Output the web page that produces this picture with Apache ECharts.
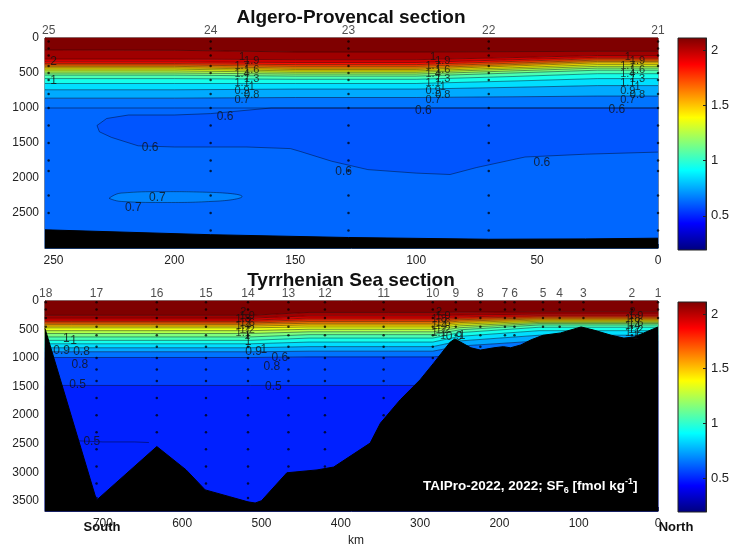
<!DOCTYPE html>
<html><head><meta charset="utf-8">
<script src="https://cdn.jsdelivr.net/npm/echarts@6/dist/echarts.min.js"></script>
<style>html,body{margin:0;padding:0;background:#fff}#c{width:731px;height:548px}</style>
</head><body><div id="c"></div>
<script>
// ================= DATA =================
const cbMin = 0.19, cbMax = 2.11;
const cbTicks = [0.5, 1, 1.5, 2];
const jetColors = ['#00007f','#0000ff','#007fff','#00ffff','#7fff7f','#ffff00','#ff7f00','#ff0000','#7f0000'];

// ---- Algero-Provencal section ----
const apXMax = 253.5, apYMax = 3000;
const apXTicks = [0, 50, 100, 150, 200, 250];
const apYTicks = [0, 500, 1000, 1500, 2000, 2500];
const apStations = ['25', '24', '23', '22', '21'];
const apStationKm = [252, 185, 128, 70, 0];
const apStationBottom = [2740, 2810, 2850, 2875, 2860];
const apSampleDepths = [50, 150, 250, 400, 500, 600, 800, 1000, 1250, 1500, 1750, 1900, 2250, 2500, 2750];
const apLevels = [2.1, 2.0, 1.9, 1.8, 1.7, 1.6, 1.5, 1.4, 1.3, 1.2, 1.1, 1.0, 0.9, 0.8, 0.7, 0.6];
const apNodesKm = [253.5, 200, 150, 100, 60, 25, 0];
const apIsoDepths = [
  [170, 175, 200, 200, 195, 190, 190],
  [300, 300, 310, 310, 280, 250, 250],
  [340, 340, 350, 350, 310, 275, 275],
  [365, 365, 380, 380, 335, 295, 295],
  [385, 385, 405, 405, 360, 315, 315],
  [405, 405, 430, 430, 380, 335, 335],
  [425, 425, 450, 450, 400, 355, 355],
  [445, 445, 470, 470, 425, 380, 380],
  [470, 470, 490, 490, 445, 405, 405],
  [500, 500, 515, 515, 470, 430, 430],
  [530, 530, 545, 545, 500, 460, 460],
  [580, 580, 590, 590, 550, 510, 510],
  [650, 650, 650, 650, 615, 580, 580],
  [740, 740, 730, 730, 705, 680, 680],
  [860, 860, 850, 850, 840, 830, 830],
  [1000, 1000, 1000, 1000, 1000, 1000, 1000]
];
const apDeepValue = 0.625;
const apTongue = [[0,1000],[160,1000],[185,1080],[200,1100],[219,1100],[228,1150],[232,1250],[231,1340],[226,1420],[215,1540],[200,1557],[170,1557],[152,1580],[148,1620],[135,1760],[120,1880],[100,1930],[86,1950],[75,1850],[55,1700],[30,1660],[0,1630]];
const apTongueValue = 0.59;
const apLoop = [[227,2290],[222,2215],[205,2195],[185,2205],[172,2265],[182,2330],[205,2350],[222,2335],[227,2290]];
const apLoopValue = 0.68;
const apBathy = [[253.5,2740],[185,2810],[128,2850],[70,2875],[30,2870],[0,2860]];
const apLabels = [[250,340,'2'],[250,614,'1'],[179,1130,'0.6'],[210,1570,'0.6'],[207,2286,'0.7'],[217,2430,'0.7'],[130,1914,'0.6'],[97,1043,'0.6'],[48,1786,'0.6'],[17,1030,'0.6']];
const apStackKm = [172, 168, 93, 89, 12.5, 8.5];
const apStackTexts = [['1','1.7','1.4','1.1','0.9','0.7'], ['1.9','1.6','1.3','1','0.8']];
const apStackDepths = [[270, 400, 520, 640, 760, 880], [330, 460, 580, 700, 820]];

// ---- Tyrrhenian Sea section ----
const tyXMax = 773, tyYMax = 3680;
const tyXTicks = [0, 100, 200, 300, 400, 500, 600, 700];
const tyYTicks = [0, 500, 1000, 1500, 2000, 2500, 3000, 3500];
const tyStations = ['18','17','16','15','14','13','12','11','10','9','8','7','6','5','4','3','2','1'];
const tyStationKm = [772, 708, 632, 570, 517, 466, 420, 346, 284, 255, 224, 193, 181, 145, 124, 94, 33, 0];
const tyStationBottom = [480, 3480, 2550, 3330, 3520, 3000, 2940, 2100, 1090, 680, 850, 805, 800, 600, 560, 465, 630, 455];
const tySampleDepths = [20, 150, 300, 450, 600, 800, 1000, 1200, 1400, 1700, 2000, 2300, 2600, 2900, 3200, 3450];
const tyLevels = [2.1, 2.0, 1.9, 1.8, 1.7, 1.6, 1.5, 1.4, 1.3, 1.2, 1.1, 1.0, 0.9, 0.8, 0.7, 0.6, 0.5];
const tyNodesKm = [773, 740, 640, 514, 440, 340, 284, 250, 150, 34, 0];
const tyIsoDepths = [
  [250,250,250,250,200,200,200,195,190,190,190],
  [300,300,300,300,260,260,260,245,230,230,230],
  [335,335,335,335,300,300,300,278,255,255,255],
  [360,360,360,360,330,330,330,303,275,275,275],
  [385,385,385,385,360,360,360,328,295,295,295],
  [410,410,410,410,390,390,390,353,315,315,315],
  [440,440,440,440,420,420,420,378,335,335,335],
  [470,470,470,470,455,455,455,405,355,355,355],
  [520,520,520,520,495,495,495,435,375,375,375],
  [570,570,570,570,540,540,540,468,395,395,395],
  [630,630,630,630,590,590,590,505,420,420,420],
  [690,690,690,690,650,650,650,555,460,460,460],
  [750,750,750,750,720,720,720,620,520,520,520],
  [820,820,820,820,800,800,800,700,600,600,600],
  [890,890,890,890,880,880,880,790,700,700,700],
  [990,990,990,990,980,980,980,940,900,900,900],
  [1480,1480,1480,1480,1480,1480,1480,1390,1300,1300,1300]
];
const tyDeepValue = 0.49;
const tyLine05b = [[731,2450],[700,2470],[660,2470],[642,2480]];
const tyBathy = [[773,480],[708,3490],[632,2550],[595,2960],[571,3310],[540,3430],[517,3520],[508,3540],[500,3500],[468,3010],[430,2960],[409,2910],[363,2490],[350,2140],[325,1730],[300,1380],[283,1090],[270,860],[262,720],[256,665],[249,720],[236,820],[224,860],[207,820],[195,800],[186,820],[173,770],[160,680],[145,600],[123,560],[97,455],[81,510],[59,600],[43,650],[30,630],[18,560],[0,455]];
const tyLabels = [[746,660,'1'],[737,690,'1'],[752,875,'0.9'],[727,890,'0.8'],[729,1120,'0.8'],[732,1470,'0.5'],[714,2470,'0.5'],[517,720,'1'],[510,890,'0.9'],[497,860,'1'],[477,1000,'0.6'],[487,1150,'0.8'],[485,1500,'0.5'],[257,630,'0.9'],[247,600,'1']];
const tyStackKm = [523, 518, 276, 271, 32, 28];
const tyStackTexts = [['2','1.8','1.4','1.1'], ['1.9','1.6','1.2','1']];
const tyStackDepths = [[200, 320, 440, 560], [260, 380, 500, 620]];

// ================= CHART =================
const FONT = '"Liberation Sans", Arial, sans-serif';
const series = [];
const colorSeries = [];

function bandSeries(g, nodes, levels, iso, deepVal, maxDepth) {
  const data = [];
  for (let i = 0; i <= levels.length; i++) {
    let v;
    if (i === 0) v = levels[0] + 0.1;
    else if (i === levels.length) v = deepVal;
    else v = (levels[i - 1] + levels[i]) / 2;
    data.push([i, v]);
  }
  return {
    type: 'custom', xAxisIndex: g, yAxisIndex: g, z: 1, silent: true, data,
    renderItem(params, api) {
      const i = api.value(0);
      const top = nodes.map((k, j) => [k, i === 0 ? 0 : iso[i - 1][j]]);
      const bot = nodes.map((k, j) => [k, i === levels.length ? maxDepth : iso[i][j]]).reverse();
      const pts = top.concat(bot).map(p => api.coord(p));
      const c = api.visual('color');
      return { type: 'polygon', shape: { points: pts }, style: { fill: c, stroke: c, lineWidth: 0.6 } };
    }
  };
}
function polySeries(g, polys, vals, smooth) {
  return {
    type: 'custom', xAxisIndex: g, yAxisIndex: g, z: 2, silent: true,
    data: vals.map((v, i) => [i, v]),
    renderItem(params, api) {
      const poly = polys[api.value(0)];
      const c = api.visual('color');
      return { type: 'polygon', shape: { points: poly.map(p => api.coord(p)), smooth: smooth[api.value(0)] }, style: { fill: c } };
    }
  };
}
function lineSeries(g, data, smooth) {
  return { type: 'line', xAxisIndex: g, yAxisIndex: g, z: 3, silent: true, data, smooth: smooth || false,
    showSymbol: false, symbol: 'none', lineStyle: { color: '#000', width: 0.7, opacity: 0.6 } };
}
function isoLines(g, nodes, iso) {
  iso.forEach(row => series.push(lineSeries(g, nodes.map((k, j) => [k, row[j]]))));
}
function bathySeries(g, data) {
  return { type: 'line', xAxisIndex: g, yAxisIndex: g, z: 4, silent: true, data, showSymbol: false, symbol: 'none',
    lineStyle: { color: '#000', width: 1 }, areaStyle: { color: '#000', opacity: 1, origin: 'end' } };
}
function dotSeries(g, kms, bottoms, samples) {
  const data = [];
  kms.forEach((k, i) => samples.forEach(d => { if (d < bottoms[i] - 20) data.push([k, d]); }));
  return { type: 'scatter', xAxisIndex: g, yAxisIndex: g, z: 5, silent: true, data, symbolSize: 2.5,
    itemStyle: { color: '#000', opacity: 0.75 } };
}
function stationLabelSeries(g, kms, names) {
  return { type: 'scatter', xAxisIndex: g, yAxisIndex: g, z: 6, silent: true, clip: false, symbolSize: 0,
    data: kms.map((k, i) => [k, 0, names[i]]),
    label: { show: true, position: 'top', distance: 1, formatter: p => p.value[2], color: '#222', fontSize: 12, fontFamily: FONT } };
}
function textLabelSeries(g, items, fs) {
  return { type: 'scatter', xAxisIndex: g, yAxisIndex: g, z: 6, silent: true, clip: false, symbolSize: 0,
    data: items,
    label: { show: true, position: 'inside', formatter: p => p.value[2], color: '#111', fontSize: fs, fontFamily: FONT } };
}
// stacked (crowded) contour labels: columns in pairs, alternating texts
function stackItems(kms, texts, depths) {
  const out = [];
  kms.forEach((k, c) => { const s = c % 2; texts[s].forEach((t, i) => out.push([k, depths[s][i], t])); });
  return out;
}
function addColor(s) { colorSeries.push(series.length); series.push(s); }

// Top panel
addColor(bandSeries(0, apNodesKm, apLevels, apIsoDepths, apDeepValue, apYMax));
addColor(polySeries(0, [apTongue, apLoop], [apTongueValue, apLoopValue], [0, 0.4]));
isoLines(0, apNodesKm, apIsoDepths);
series.push(lineSeries(0, apTongue));
series.push(lineSeries(0, apLoop, true));
series.push(bathySeries(0, apBathy));
series.push(dotSeries(0, apStationKm, apStationBottom, apSampleDepths));
series.push(stationLabelSeries(0, apStationKm, apStations));
series.push(textLabelSeries(0, apLabels, 12));
series.push(textLabelSeries(0, stackItems(apStackKm, apStackTexts, apStackDepths), 11));

// Bottom panel
addColor(bandSeries(1, tyNodesKm, tyLevels, tyIsoDepths, tyDeepValue, tyYMax));
isoLines(1, tyNodesKm, tyIsoDepths);
series.push(lineSeries(1, tyLine05b));
series.push(bathySeries(1, tyBathy));
series.push(dotSeries(1, tyStationKm, tyStationBottom, tySampleDepths));
series.push(stationLabelSeries(1, tyStationKm, tyStations));
series.push(textLabelSeries(1, tyLabels, 12));
series.push(textLabelSeries(1, stackItems(tyStackKm, tyStackTexts, tyStackDepths), 11));

const plainNum = v => String(v);
function mainX(g, max, ticks) {
  return { gridIndex: g, type: 'value', inverse: true, min: 0, max,
    axisLine: { show: true, onZero: false, lineStyle: { color: '#222' } },
    axisTick: { show: true, inside: true, length: 4, customValues: ticks, lineStyle: { color: '#222' } },
    axisLabel: { customValues: ticks, formatter: plainNum, color: '#222', fontSize: 12, fontFamily: FONT, margin: 7 },
    splitLine: { show: false } };
}
function mainY(g, max, ticks) {
  return { gridIndex: g, type: 'value', inverse: true, min: 0, max,
    axisLine: { show: true, onZero: false, lineStyle: { color: '#222' } },
    axisTick: { show: true, inside: true, length: 4, customValues: ticks, lineStyle: { color: '#222' } },
    axisLabel: { customValues: ticks, formatter: plainNum, color: '#222', fontSize: 12, fontFamily: FONT, margin: 6 },
    splitLine: { show: false } };
}
function cbX(g) { return { gridIndex: g, type: 'value', min: 0, max: 1, show: false }; }
function cbY(g) {
  return { gridIndex: g, type: 'value', min: cbMin, max: cbMax, position: 'right',
    axisLine: { show: true, onZero: false, lineStyle: { color: '#222' } },
    axisTick: { show: true, inside: true, length: 3, customValues: cbTicks, lineStyle: { color: '#222' } },
    axisLabel: { customValues: cbTicks, formatter: plainNum, color: '#222', fontSize: 13, fontFamily: FONT, margin: 5 },
    splitLine: { show: false } };
}
function gridBox(l, t, w, h) {
  return { left: l, top: t, width: w, height: h, show: true, borderColor: '#222', borderWidth: 1, outerBoundsMode: 'none', containLabel: false };
}
const jetGradient = () => new echarts.graphic.LinearGradient(0, 1, 0, 0,
  jetColors.map((c, i) => ({ offset: i / (jetColors.length - 1), color: c })));

const option = {
  animation: false,
  backgroundColor: '#fff',
  grid: [gridBox(45, 38, 613, 210), gridBox(45, 301, 613, 210), gridBox(678, 38, 28, 212), gridBox(678, 302, 28, 210)],
  xAxis: [mainX(0, apXMax, apXTicks), mainX(1, tyXMax, tyXTicks), cbX(2), cbX(3)],
  yAxis: [mainY(0, apYMax, apYTicks), mainY(1, tyYMax, tyYTicks), cbY(2), cbY(3)],
  visualMap: { type: 'continuous', show: false, min: cbMin, max: cbMax, dimension: 1, seriesIndex: colorSeries,
    inRange: { color: jetColors } },
  graphic: [
    { type: 'rect', z: -1, shape: { x: 678, y: 38, width: 28, height: 212 }, style: { fill: jetGradient() } },
    { type: 'rect', z: -1, shape: { x: 678, y: 302, width: 28, height: 210 }, style: { fill: jetGradient() } },
    { type: 'text', x: 351, y: 8, z: 10, style: { text: 'Algero-Provencal section', textAlign: 'center', fill: '#111', font: 'bold 19px ' + FONT } },
    { type: 'text', x: 351, y: 271, z: 10, style: { text: 'Tyrrhenian Sea section', textAlign: 'center', fill: '#111', font: 'bold 19px ' + FONT } },
    { type: 'text', x: 356, y: 535, z: 10, style: { text: 'km', textAlign: 'center', fill: '#222', font: '12px ' + FONT } },
    { type: 'text', x: 102, y: 521, z: 10, style: { text: 'South', textAlign: 'center', fill: '#111', font: 'bold 13px ' + FONT } },
    { type: 'text', x: 676, y: 521, z: 10, style: { text: 'North', textAlign: 'center', fill: '#111', font: 'bold 13px ' + FONT } },
    { type: 'text', x: 423, y: 477, z: 10, style: {
      text: '{a|TAIPro-2022, 2022; SF}{s|6}{a| [fmol kg}{u|-1}{a|]}',
      rich: {
        a: { fill: '#fff', fontSize: 13.5, fontWeight: 'bold', fontFamily: FONT, lineHeight: 18 },
        s: { fill: '#fff', fontSize: 9, fontWeight: 'bold', fontFamily: FONT, verticalAlign: 'bottom', lineHeight: 18 },
        u: { fill: '#fff', fontSize: 9, fontWeight: 'bold', fontFamily: FONT, verticalAlign: 'top', lineHeight: 18 }
      } } }
  ],
  series
};
const chart = echarts.init(document.getElementById('c'), null, { renderer: 'canvas', width: 731, height: 548 });
chart.setOption(option);
</script>
</body></html>
